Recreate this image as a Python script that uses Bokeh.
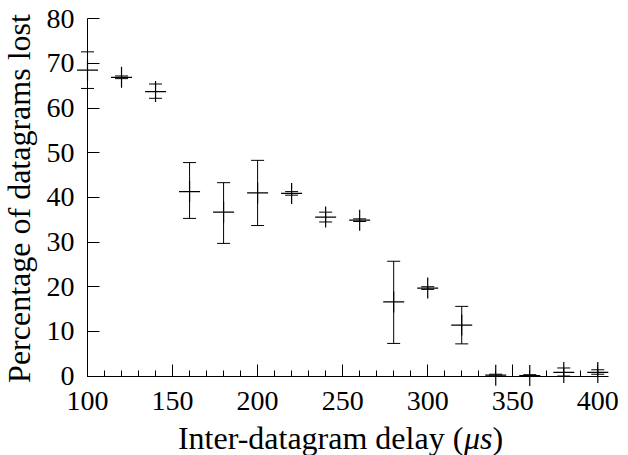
import math

from bokeh.embed import file_html
from bokeh.models import (ColumnDataSource, Label, LinearAxis, Range1d,
                          SingleIntervalTicker, TeeHead, Whisker)
from bokeh.plotting import figure
from bokeh.resources import INLINE

# Inter-datagram delay (microseconds) and measured loss (percent)
delay = [100, 120, 140, 160, 180, 200, 220, 240, 260, 280, 300, 320, 340, 360, 380, 400]
loss = [68.5, 66.9, 63.7, 41.3, 36.7, 41.0, 40.9, 35.6, 34.9, 16.6, 19.7, 11.4, 0.2, 0.1, 0.8, 0.8]
loss_low = [64.4, 66.6, 62.2, 35.3, 29.7, 33.7, 40.5, 34.5, 34.6, 7.3, 19.4, 7.2, 0.0, 0.0, 0.0, 0.4]
loss_high = [72.6, 67.2, 65.4, 47.8, 43.3, 48.3, 41.3, 36.7, 35.2, 25.7, 20.0, 15.6, 0.4, 0.3, 1.8, 1.4]

x_label_parts = ["Inter-datagram delay (", "\u03bcs", ")"]
y_label = "Percentage of datagrams lost"

FONT = "Liberation Serif"
TICK_SIZE = 28
TITLE_SIZE = 32
W, H = 628, 455

src = ColumnDataSource(dict(x=delay, y=loss, lo=loss_low, hi=loss_high))

# the frame fills the whole canvas; the axes are pinned inside it
p = figure(width=W, height=H, output_backend="svg", toolbar_location=None,
           x_axis_location=None, y_axis_location=None,
           x_range=Range1d(48.85, 418.05), y_range=Range1d(-17.8, 84.1),
           min_border=0)
p.outline_line_color = None
p.grid.visible = False

x_axis = LinearAxis(fixed_location=0, bounds=(100, 406.3),
                    ticker=SingleIntervalTicker(interval=50, num_minor_ticks=5))
y_axis = LinearAxis(fixed_location=100, bounds=(0, 80),
                    ticker=SingleIntervalTicker(interval=10, num_minor_ticks=0))
for ax in (x_axis, y_axis):
    ax.axis_line_color = "black"
    ax.axis_line_width = 1
    ax.major_tick_in = 12
    ax.major_tick_out = 0
    ax.major_tick_line_color = "black"
    ax.minor_tick_in = 6
    ax.minor_tick_out = 0
    ax.minor_tick_line_color = "black"
    ax.major_label_text_font = FONT
    ax.major_label_text_font_size = f"{TICK_SIZE}px"
    ax.major_label_text_color = "black"
y_axis.minor_tick_line_color = None
x_axis.major_label_standoff = 16
y_axis.major_label_standoff = 13
p.add_layout(x_axis, "below")
p.add_layout(y_axis, "left")

whisk = Whisker(source=src, base="x", lower="lo", upper="hi", dimension="height",
                line_color="black", line_width=1,
                upper_head=TeeHead(size=13, line_color="black", line_width=1),
                lower_head=TeeHead(size=13, line_color="black", line_width=1))
p.add_layout(whisk)

p.scatter("x", "y", source=src, marker="cross", size=21,
          line_color="black", line_width=1.2)

# axis titles (screen units measured from the bottom-left corner)
p.add_layout(Label(x=18, y=H - 198, x_units="screen", y_units="screen", text=y_label,
                   angle=math.pi / 2, text_align="center", text_baseline="alphabetic",
                   text_font=FONT, text_font_size=f"{TITLE_SIZE}px", text_color="black"))

em = TITLE_SIZE
widths = [8.941 * em, 0.889 * em, 0.333 * em]
pos = 340 - sum(widths) / 2
styles = ["normal", "italic", "normal"]
for part, w, st in zip(x_label_parts, widths, styles):
    p.add_layout(Label(x=pos, y=17.5, x_units="screen", y_units="screen", text=part,
                       text_align="left", text_baseline="alphabetic",
                       text_font=FONT, text_font_size=f"{TITLE_SIZE}px",
                       text_font_style=st, text_color="black"))
    pos += w

open("out.html", "w").write(file_html(p, INLINE))
